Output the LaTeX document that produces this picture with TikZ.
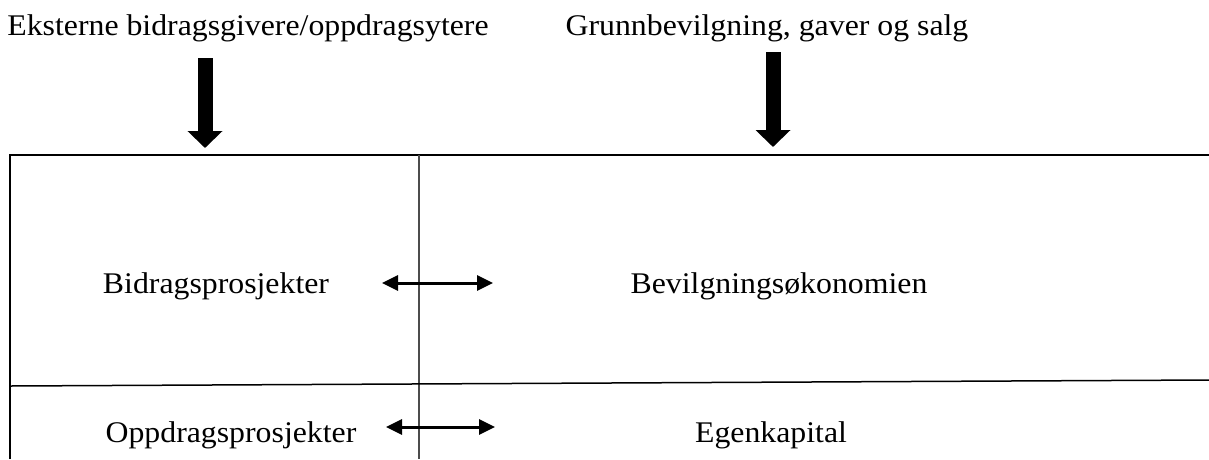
\documentclass[tikz,border=0pt]{standalone}
\usepackage{fontspec}
\setmainfont{Liberation Serif}[FakeStretch=1.06]
\usetikzlibrary{arrows.meta}

\begin{document}
\begin{tikzpicture}[x=1pt,y=-1pt,
  txt/.style={inner sep=0pt,anchor=base,font=\fontsize{30}{34}\selectfont},
  bigarrow/.style={line width=15pt,-{Triangle[width=34pt,length=17pt]}},
  dblarrow/.style={line width=3pt,{Triangle[width=15pt,length=16pt]}-{Triangle[width=15pt,length=16pt]}}]
\useasboundingbox (0,0) rectangle (1209,459);

% headings
\node[txt] (ext) at (248,35) {Eksterne bidragsgivere/oppdragsytere};
\node[txt] (grb) at (767,35) {Grunnbevilgning, gaver og salg};

% frame
\draw[line width=2.5pt] (10,459) -- (10,155) coordinate (tl) -- (1209,155) coordinate (tr);
\draw[line width=1.5pt,black!70] (419,155) coordinate (mt) -- (419,459) coordinate (mb);
\draw[line width=1.5pt] (10,386) coordinate (ml) -- (1209,380) coordinate (mr);

% inflows
\coordinate (a1) at (205,58);  \coordinate (a2) at (205,148);
\coordinate (b1) at (773,52);  \coordinate (b2) at (773,147);
\draw[bigarrow] (a1) -- (a2);
\draw[bigarrow] (b1) -- (b2);

% cells
\node[txt] (bid) at (216,293) {Bidragsprosjekter};
\node[txt] (bev) at (779,293) {Bevilgningsøkonomien};
\node[txt] (opp) at (231,442) {Oppdragsprosjekter};
\node[txt] (egk) at (771,442) {Egenkapital};

% exchanges
\coordinate (p1) at (382,283); \coordinate (p2) at (493,283);
\coordinate (q1) at (386,427); \coordinate (q2) at (495,427);
\draw[dblarrow] (p1) -- (p2);
\draw[dblarrow] (q1) -- (q2);
\end{tikzpicture}
\end{document}
